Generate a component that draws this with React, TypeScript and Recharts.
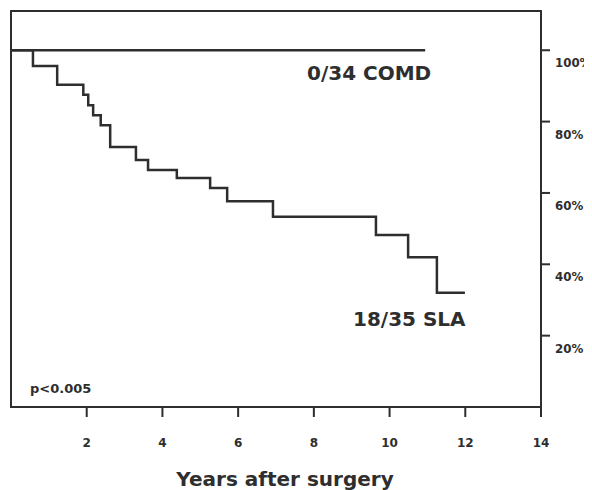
import React from 'react';
import { LineChart, Line, XAxis, YAxis, ReferenceArea } from 'recharts';

const xTicks = [2, 4, 6, 8, 10, 12, 14];
const yTicks = [20, 40, 60, 80, 100];
const slaTimes = [0, 0.58, 1.22, 1.91, 2.04, 2.17, 2.37, 2.62, 3.3, 3.62, 4.38, 5.26, 5.71, 6.92, 9.64, 10.49, 11.25, 11.99];
const slaSurvival = [100, 95.6, 90.3, 87.5, 84.6, 81.8, 79.0, 72.9, 69.2, 66.4, 64.2, 61.4, 57.7, 53.3, 48.2, 42.0, 32.0, 32.0];
const comdTimes = [0, 10.94];
const comdSurvival = [100, 100];

const slaData = slaTimes.map((t, i) => ({ t, s: slaSurvival[i] }));
const comdData = comdTimes.map((t, i) => ({ t, s: comdSurvival[i] }));

const INK = '#2e2e2e';
const FONT = "'DejaVu Sans', sans-serif";

const XTick = (props: any) => {
  const { x, y, payload } = props;
  return (
    <text x={x} y={y + 30} textAnchor="middle" fontFamily={FONT} fontWeight="bold" fontSize={12} fill={INK}>
      {payload.value}
    </text>
  );
};

const YTick = (props: any) => {
  const { x, y, payload } = props;
  return (
    <text x={x + 5} y={y + 17} textAnchor="start" fontFamily={FONT} fontWeight="bold" fontSize={11.8} fill={INK}>
      {payload.value + '%'}
    </text>
  );
};

export default function App() {
  return (
    <LineChart width={584} height={482} margin={{ top: 3, left: 3, right: 0, bottom: 0 }}>
      <XAxis
        dataKey="t"
        type="number"
        domain={[0, 14]}
        ticks={xTicks}
        allowDataOverflow
        height={83}
        tickSize={10}
        tickMargin={0}
        axisLine={{ stroke: INK, strokeWidth: 2 }}
        tickLine={{ stroke: INK, strokeWidth: 2 }}
        tick={<XTick />}
      />
      <YAxis
        orientation="right"
        type="number"
        domain={[0, 111]}
        ticks={yTicks}
        allowDataOverflow
        width={51}
        tickSize={9}
        tickMargin={0}
        axisLine={{ stroke: INK, strokeWidth: 2 }}
        tickLine={{ stroke: INK, strokeWidth: 2 }}
        tick={<YTick />}
      />
      <ReferenceArea x1={0} x2={14} y1={0} y2={111} fill="none" stroke={INK} strokeWidth={2} ifOverflow="visible" />
      <Line data={comdData} dataKey="s" type="linear" stroke={INK} strokeWidth={2.5} dot={false} isAnimationActive={false} />
      <Line data={slaData} dataKey="s" type="stepAfter" stroke={INK} strokeWidth={2.5} dot={false} isAnimationActive={false} />
      <text x={299} y={72} fontFamily={FONT} fontWeight="bold" fontSize={20} fill={INK}>0/34 COMD</text>
      <text x={345} y={318} fontFamily={FONT} fontWeight="bold" fontSize={20} fill={INK}>18/35 SLA</text>
      <text x={22} y={385} fontFamily={FONT} fontWeight="bold" fontSize={13} fill={INK}>p&lt;0.005</text>
      <text x={277} y={478} textAnchor="middle" fontFamily={FONT} fontWeight="bold" fontSize={20} fill={INK}>Years after surgery</text>
    </LineChart>
  );
}
